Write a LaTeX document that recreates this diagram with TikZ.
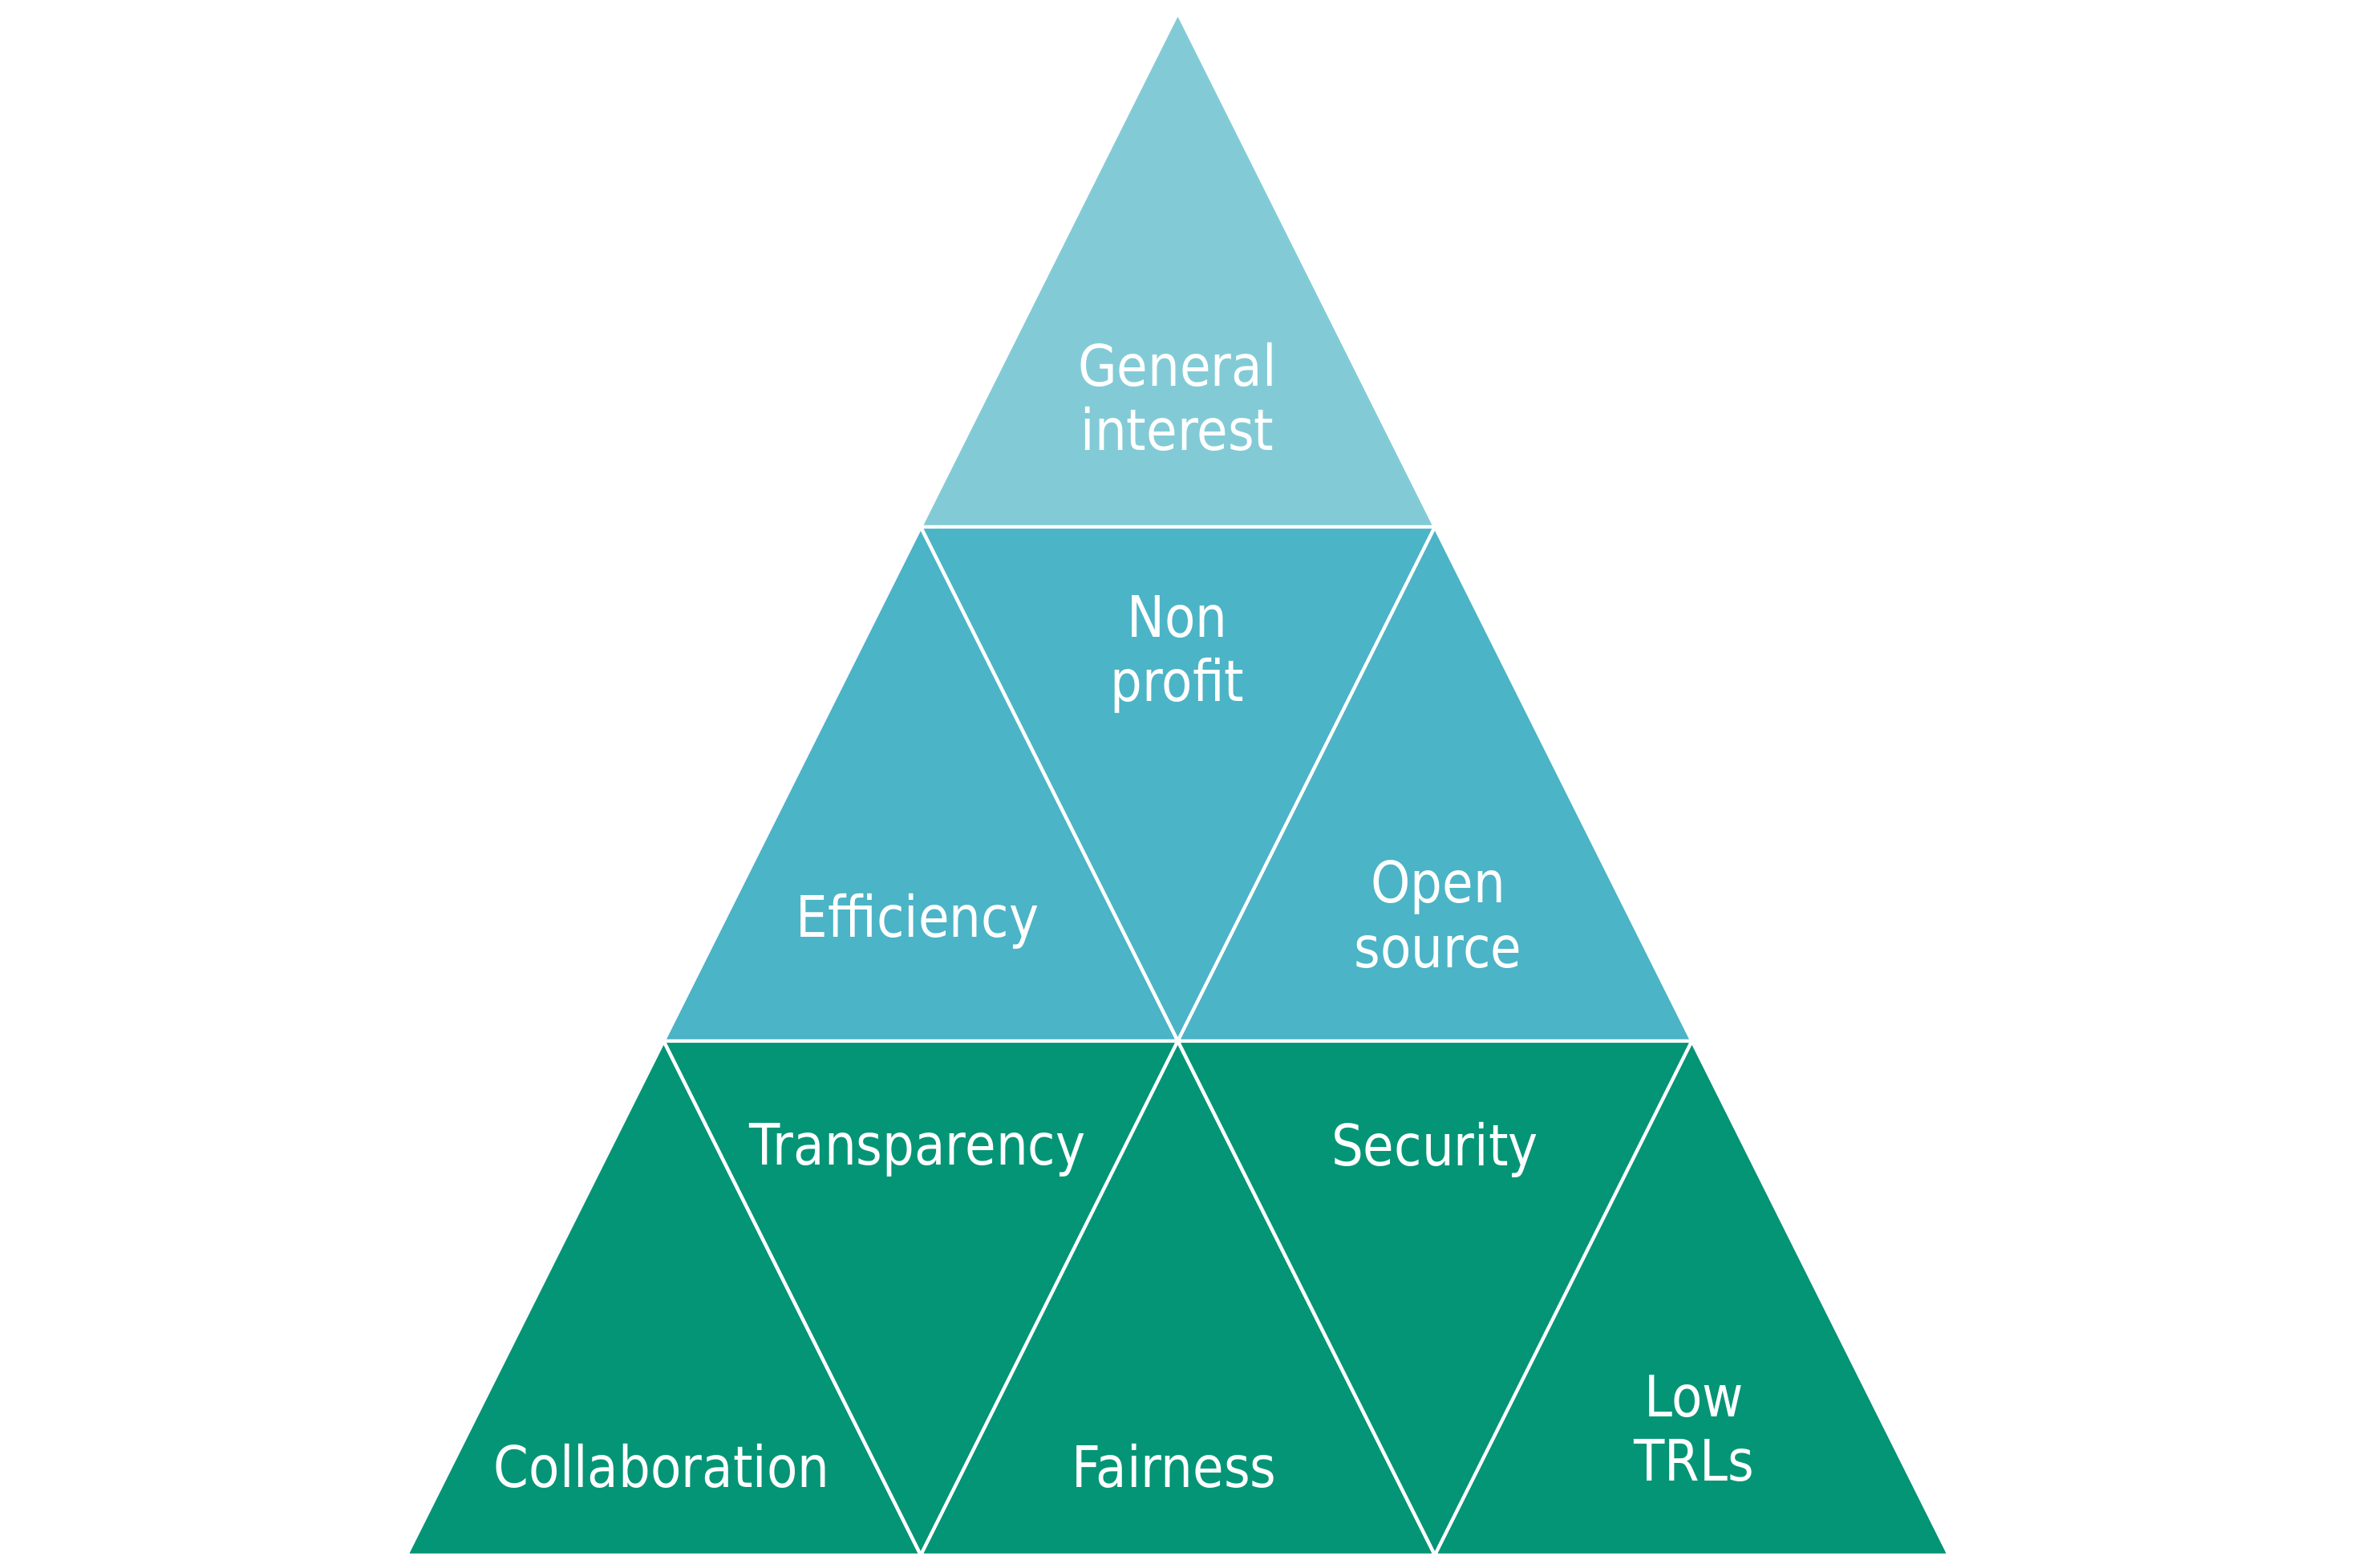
\documentclass[tikz,border=0pt]{standalone}
\usepackage{fontspec}
\setmainfont{DejaVu Sans}[FakeStretch=0.88]
\definecolor{topteal}{RGB}{130,203,214}
\definecolor{midteal}{RGB}{75,180,198}
\definecolor{basegreen}{RGB}{4,149,118}
\tikzset{
  tri/.style={draw=white,line width=1.2pt,line join=miter},
  lbl/.style={text=white,align=center,font=\fontsize{20.3}{22.8}\selectfont}
}

\begin{document}
\begin{tikzpicture}
  \useasboundingbox (0,0) rectangle (29.35,19.55);
  % corners of the pyramid
  \coordinate (a0) at (14.685,19.39);
  \coordinate (b0) at (11.48,12.98);
  \coordinate (b1) at (17.89,12.98);
  \coordinate (c0) at (8.275,6.57);
  \coordinate (c1) at (14.685,6.57);
  \coordinate (c2) at (21.095,6.57);
  \coordinate (d0) at (5.07,0.16);
  \coordinate (d1) at (11.48,0.16);
  \coordinate (d2) at (17.89,0.16);
  \coordinate (d3) at (24.30,0.16);
  % top
  \filldraw[tri,fill=topteal] (a0)--(b0)--(b1)--cycle;
  % middle row
  \filldraw[tri,fill=midteal] (b0)--(c0)--(c1)--cycle;
  \filldraw[tri,fill=midteal] (b0)--(b1)--(c1)--cycle;
  \filldraw[tri,fill=midteal] (b1)--(c1)--(c2)--cycle;
  % bottom row
  \filldraw[tri,fill=basegreen] (c0)--(d0)--(d1)--cycle;
  \filldraw[tri,fill=basegreen] (c0)--(c1)--(d1)--cycle;
  \filldraw[tri,fill=basegreen] (c1)--(d1)--(d2)--cycle;
  \filldraw[tri,fill=basegreen] (c1)--(c2)--(d2)--cycle;
  \filldraw[tri,fill=basegreen] (c2)--(d2)--(d3)--cycle;
  % labels
  \node[lbl] (general) at (14.68,14.60) {General\\interest};
  \node[lbl] (nonprofit) at (14.68,11.39) {Non\\profit};
  \node[lbl] (efficiency) at (11.44,8.06) {Efficiency};
  \node[lbl] (opensource) at (17.93,8.15) {Open\\source};
  \node[lbl] (transparency) at (11.44,5.21) {Transparency};
  \node[lbl] (security) at (17.89,5.21) {Security};
  \node[lbl] (collab) at (8.25,1.27) {Collaboration};
  \node[lbl] (fairness) at (14.64,1.27) {Fairness};
  \node[lbl] (lowtrl) at (21.12,1.74) {Low\\TRLs};
\end{tikzpicture}
\end{document}
